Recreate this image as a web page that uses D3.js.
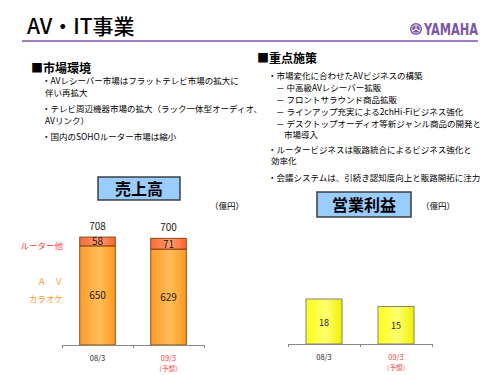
<!DOCTYPE html>
<html>
<head>
<meta charset="utf-8">
<script src="https://cdn.jsdelivr.net/npm/d3@7"></script>
<style>
  body { margin: 0; background: #fff; }
  svg text { font-family: "Noto Sans CJK JP", "Noto Sans", sans-serif; }
</style>
</head>
<body>
<script>
// data
const periods = ["08/3", "09/3"];
const periodNotes = ["", "（予想）"];
const avKaraoke = [650, 629];
const routerOther = [58, 71];
const salesTotal = [708, 700];
const operatingProfit = [18, 15];

const marketLines = [
  ["・AVレシーバー市場はフラットテレビ市場の拡大に", "伴い再拡大"],
  ["・テレビ周辺機器市場の拡大（ラック一体型オーディオ、", "AVリンク）"],
  ["・国内のSOHOルーター市場は縮小"]
];
const policyLines = [
  { t: "・市場変化に合わせたAVビジネスの構築", x: 268, y: 79 },
  { t: "－ 中高級AVレシーバー拡販", x: 276, y: 91 },
  { t: "－ フロントサラウンド商品拡販", x: 276, y: 103 },
  { t: "－ ラインアップ充実による2chHi-Fiビジネス強化", x: 276, y: 115 },
  { t: "－ デスクトップオーディオ等新ジャンル商品の開発と", x: 276, y: 127 },
  { t: "市場導入", x: 284, y: 138 },
  { t: "・ルータービジネスは販路統合によるビジネス強化と", x: 268, y: 153 },
  { t: "効率化", x: 271, y: 164 },
  { t: "・会議システムは、引続き認知度向上と販路開拓に注力", x: 268, y: 181 }
];

const W = 500, H = 375;
const purple = "#7d55a8";
const red = "#ff3b3b";

const svg = d3.select("body").append("svg")
  .attr("width", W)
  .attr("height", H);

const defs = svg.append("defs");
function hGrad(id, c1, c2, c3) {
  const g = defs.append("linearGradient").attr("id", id)
    .attr("x1", "0%").attr("x2", "100%").attr("y1", "0%").attr("y2", "0%");
  g.append("stop").attr("offset", "0%").attr("stop-color", c1);
  g.append("stop").attr("offset", "55%").attr("stop-color", c2);
  g.append("stop").attr("offset", "100%").attr("stop-color", c3);
}
hGrad("gAv", "#ff9c28", "#ffbd58", "#ff981e");
hGrad("gRouter", "#ff6a36", "#ff9c6c", "#ff6630");
hGrad("gYellow", "#ffff1a", "#ffff70", "#f0f000");

// header
svg.append("text")
  .attr("x", 27).attr("y", 34)
  .style("font-size", "21px")
  .style("font-weight", "500")
  .text("AV・IT事業");

svg.append("line")
  .attr("x1", 22).attr("x2", 478)
  .attr("y1", 41).attr("y2", 41)
  .attr("stroke", purple)
  .attr("stroke-width", 1.6);

// logo
const logo = svg.append("g").attr("transform", "translate(416,29)");
logo.append("circle").attr("r", 6).attr("fill", purple);
logo.append("circle").attr("r", 4.2).attr("fill", "none").attr("stroke", "#fff").attr("stroke-width", 0.8);
[0, 120, 240].forEach(a => {
  logo.append("line")
    .attr("x1", 0).attr("y1", 0).attr("x2", 0).attr("y2", -4)
    .attr("stroke", "#fff").attr("stroke-width", 1)
    .attr("transform", `rotate(${a})`);
});
svg.append("text")
  .attr("x", 424).attr("y", 35)
  .attr("textLength", 54)
  .attr("lengthAdjust", "spacingAndGlyphs")
  .style("font-family", "'Liberation Sans Narrow', 'DejaVu Sans Condensed', sans-serif")
  .style("font-size", "16px")
  .style("font-weight", "bold")
  .attr("fill", purple)
  .text("YAMAHA");

// left text block
svg.append("text")
  .attr("x", 31).attr("y", 73)
  .style("font-size", "12px")
  .style("font-weight", "bold")
  .text("■市場環境");

let ly = 84;
marketLines.forEach(para => {
  para.forEach((line, i) => {
    svg.append("text")
      .attr("x", i === 0 ? 42 : 45).attr("y", ly)
      .style("font-size", "8.5px")
      .text(line);
    ly += 12;
  });
  ly += 4;
});

// right text block
svg.append("text")
  .attr("x", 257).attr("y", 63)
  .style("font-size", "12px")
  .style("font-weight", "bold")
  .text("■重点施策");

policyLines.forEach(d => {
  svg.append("text")
    .attr("x", d.x).attr("y", d.y)
    .style("font-size", "8.5px")
    .text(d.t);
});

// title boxes
function titleBox(x, y, w, h, label) {
  svg.append("rect")
    .attr("x", x).attr("y", y).attr("width", w).attr("height", h)
    .attr("fill", "#99ccff")
    .attr("stroke", "#333")
    .attr("stroke-width", 1.4);
  svg.append("text")
    .attr("x", x + w / 2).attr("y", y + h / 2 + 6)
    .attr("text-anchor", "middle")
    .style("font-size", "16px")
    .style("font-weight", "bold")
    .text(label);
}
titleBox(98, 177, 82, 23, "売上高");
titleBox(317, 192, 94, 25, "営業利益");

svg.append("text").attr("x", 210).attr("y", 209)
  .style("font-size", "8.5px").text("（億円）");
svg.append("text").attr("x", 421).attr("y", 209)
  .style("font-size", "8.5px").text("（億円）");

// category axis helper
function catAxis(x0, x1, y0) {
  const edge = d3.scaleLinear().domain([0, periods.length]).range([x0, x1]);
  const ax = svg.append("g")
    .attr("transform", `translate(0,${y0})`)
    .call(d3.axisBottom(edge)
      .tickValues(d3.range(periods.length + 1))
      .tickFormat("")
      .tickSize(3)
      .tickSizeOuter(0));
  ax.select(".domain").attr("stroke", "#888");
  ax.selectAll(".tick line").attr("stroke", "#888");
}

function catLabels(x, y0) {
  periods.forEach((p, i) => {
    const cx = x(p) + x.bandwidth() / 2;
    svg.append("text")
      .attr("x", cx).attr("y", y0 + 16)
      .attr("text-anchor", "middle")
      .style("font-size", "7.5px")
      .attr("fill", periodNotes[i] ? red : "#222")
      .text(p);
    if (periodNotes[i]) {
      svg.append("text")
        .attr("x", cx).attr("y", y0 + 26)
        .attr("text-anchor", "middle")
        .style("font-size", "6.5px")
        .attr("fill", red)
        .text(periodNotes[i]);
    }
  });
}

// sales chart
const sBase = 345;
const sx = d3.scaleBand().domain(periods).range([62, 204]).paddingInner(0.5).paddingOuter(0.25);
const sy = d3.scaleLinear().domain([0, 800]).range([sBase, 223]);

const sales = periods.map((p, i) => ({ p, av: avKaraoke[i], router: routerOther[i], total: salesTotal[i] }));
const stack = d3.stack().keys(["av", "router"])(sales);
const fills = { av: "url(#gAv)", router: "url(#gRouter)" };

stack.forEach(layer => {
  svg.append("g").selectAll("rect")
    .data(layer)
    .join("rect")
    .attr("x", d => sx(d.data.p))
    .attr("width", sx.bandwidth())
    .attr("y", d => sy(d[1]))
    .attr("height", d => sy(d[0]) - sy(d[1]))
    .attr("fill", fills[layer.key])
    .attr("stroke", "#6b3300")
    .attr("stroke-width", 0.8);

  svg.append("g").selectAll("text")
    .data(layer)
    .join("text")
    .attr("x", d => sx(d.data.p) + sx.bandwidth() / 2)
    .attr("y", d => (sy(d[0]) + sy(d[1])) / 2 + 4)
    .attr("text-anchor", "middle")
    .style("font-size", "10px")
    .attr("fill", "#222")
    .text(d => d.data[layer.key]);
});

svg.append("g").selectAll("text")
  .data(sales)
  .join("text")
  .attr("x", d => sx(d.p) + sx.bandwidth() / 2)
  .attr("y", d => sy(d.total) - 7)
  .attr("text-anchor", "middle")
  .style("font-size", "10px")
  .attr("fill", "#222")
  .text(d => d.total);

catAxis(62, 204, sBase);
catLabels(sx, sBase);

// series labels on the left
svg.append("text").attr("x", 63).attr("y", 249).attr("text-anchor", "end")
  .style("font-size", "8.5px").attr("fill", red).text("ルーター他");
svg.append("text").attr("x", 63).attr("y", 285).attr("text-anchor", "end")
  .style("font-size", "8.5px").attr("fill", "#ff9a1a").text("Ａ　Ｖ");
svg.append("text").attr("x", 63).attr("y", 302).attr("text-anchor", "end")
  .style("font-size", "8.5px").attr("fill", "#ff9a1a").text("カラオケ");

// operating profit chart
const pBase = 344;
const px = d3.scaleBand().domain(periods).range([288, 432]).paddingInner(0.5).paddingOuter(0.25);
const py = d3.scaleLinear().domain([0, 40]).range([pBase, 244]);

svg.append("g").selectAll("rect")
  .data(periods)
  .join("rect")
  .attr("x", d => px(d))
  .attr("width", px.bandwidth())
  .attr("y", (d, i) => py(operatingProfit[i]))
  .attr("height", (d, i) => pBase - py(operatingProfit[i]))
  .attr("fill", "url(#gYellow)")
  .attr("stroke", "#777")
  .attr("stroke-width", 0.9);

svg.append("g").selectAll("text")
  .data(periods)
  .join("text")
  .attr("x", d => px(d) + px.bandwidth() / 2)
  .attr("y", (d, i) => (py(operatingProfit[i]) + pBase) / 2 + 4)
  .attr("text-anchor", "middle")
  .style("font-size", "9px")
  .attr("fill", "#222")
  .text((d, i) => operatingProfit[i]);

catAxis(288, 432, pBase);
catLabels(px, pBase);
</script>
</body>
</html>
